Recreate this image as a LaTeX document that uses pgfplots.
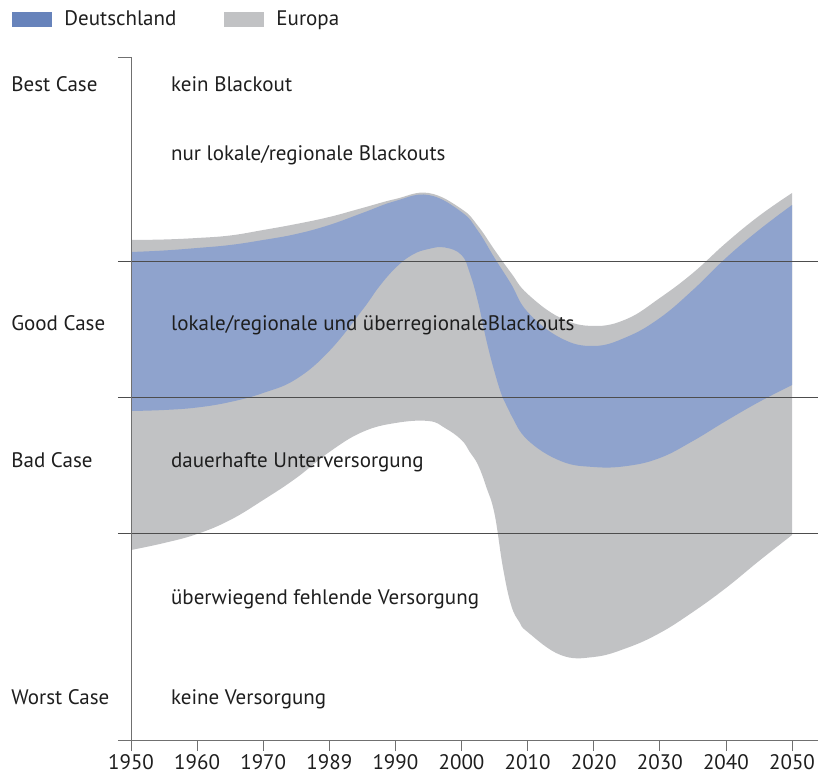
\documentclass[border=0pt]{standalone}
\usepackage{fontspec}
\setmainfont{PT Sans}
\usepackage{pgfplots}
\pgfplotsset{compat=1.18}
\usepgfplotslibrary{fillbetween}
\definecolor{deblue}{HTML}{8FA3CD}
\definecolor{legblue}{HTML}{6783BB}
\definecolor{eugray}{HTML}{C1C2C4}
\definecolor{linegray}{HTML}{4D4D4D}
\definecolor{axgray}{HTML}{707070}
\definecolor{txt}{HTML}{1E1E1E}
\begin{document}
\begin{tikzpicture}
\begin{axis}[
  scale only axis, width=700bp, height=682bp,
  xmin=-0.197, xmax=10.393, ymin=0, ymax=682,
  axis x line=bottom, axis y line=none,
  x axis line style={-, axgray, line width=1bp},
  xtick={0,...,10},
  xticklabels={1950,1960,1970,1989,1990,2000,2010,2020,2030,2040,2050},
  tick align=outside, major tick length=11bp,
  x tick style={axgray, line width=0.8bp},
  ytick=\empty,
  font=\fontsize{21bp}{25bp}\selectfont,
  tick label style={font=\fontsize{21bp}{25bp}\selectfont, text=txt},
  /pgf/number format/assume math mode=true,
  clip=false, no markers,
  legend columns=2,
  legend style={draw=none, fill=none, at={(-0.151,1.072)}, anchor=north west,
    inner sep=0pt, text=txt, font=\fontsize{21bp}{25bp}\selectfont,
    /tikz/every even column/.append style={column sep=46bp}},
  legend image code/.code={\fill[#1] (0bp,-7.5bp) rectangle (40bp,7.5bp);\path (50bp,0bp);},
]
% Europa (upper / lower edge)
\addplot[draw=none, smooth, tension=0.7, name path=eutop, forget plot] coordinates {
 (0,500) (0.5,500.5) (1,502) (1.5,504.5) (2,510) (2.5,516) (3,523) (3.5,532) (4,541)
 (4.5,547) (5,531) (5.25,514) (5.5,490) (5.75,467) (6,446) (6.5,422) (7,414) (7.5,421)
 (8,442) (8.5,467) (9,497) (9.5,524) (10,547)};
\addplot[draw=none, smooth, tension=0.7, name path=eubot, forget plot] coordinates {
 (0,190) (0.5,197) (1,206) (1.5,220) (2,240) (2.5,262) (3,288) (3.5,308) (4,317)
 (4.5,319) (4.75,312) (5,300) (5.125,288) (5.25,275) (5.375,253) (5.5,226) (5.625,173)
 (5.75,135) (5.875,118) (6,108) (6.5,85) (7,83) (7.5,92) (8,107) (8.5,128) (9,152)
 (9.5,179) (10,205)};
% Deutschland (upper / lower edge)
\addplot[draw=none, smooth, tension=0.7, name path=detop, forget plot] coordinates {
 (0,488) (0.5,489.5) (1,492) (1.5,495) (2,500) (2.5,506) (3,515) (3.5,527) (4,539)
 (4.5,545) (5,528) (5.25,509) (5.5,482) (5.75,456) (6,428) (6.5,402) (7,394) (7.5,403)
 (8,422) (8.5,450) (9,482) (9.5,510) (10,535)};
\addplot[draw=none, smooth, tension=0.7, name path=debot, forget plot] coordinates {
 (0,329) (0.5,330) (1,332.5) (1.5,338) (2,347) (2.5,361) (3,389) (3.5,430) (3.75,453)
 (4,472) (4.25,485) (4.5,491) (4.75,492.5) (5,485) (5.125,467) (5.25,438) (5.375,400)
 (5.5,368) (5.625,342) (5.75,325) (6,300) (6.5,279) (7,273) (7.5,274) (8,282) (8.5,299)
 (9,319) (9.5,338) (10,355)};
\addplot[eugray, draw=none, forget plot] fill between[of=eutop and eubot];
\addplot[deblue, draw=none, forget plot] fill between[of=detop and debot];
% scenario boundaries
\addplot[linegray, line width=1bp, forget plot] coordinates {(-0.197,478.5) (10.393,478.5)};
\addplot[linegray, line width=1bp, forget plot] coordinates {(-0.197,342.3) (10.393,342.3)};
\addplot[linegray, line width=1bp, forget plot] coordinates {(-0.197,206.5) (10.393,206.5)};
\draw[axgray, line width=1bp] (axis cs:-0.197,682) -- (axis cs:0,682) -- (axis cs:0,0);
\addlegendimage{fill=legblue, draw=none}
\addlegendentry{Deutschland}
\addlegendimage{fill=eugray, draw=none}
\addlegendentry{Europa}
% labels
\begin{scope}[every node/.style={anchor=base west, inner sep=0pt, text=txt}]
\node at (axis cs:-1.813,648) {Best Case};
\node at (axis cs:-1.813,409) {Good Case};
\node at (axis cs:-1.813,273) {Bad Case};
\node at (axis cs:-1.813,36) {Worst Case};
\node at (axis cs:0.604,648) {kein Blackout};
\node at (axis cs:0.604,579) {nur lokale/regionale Blackouts};
\node at (axis cs:0.604,409) {lokale/regionale und überregionaleBlackouts};
\node at (axis cs:0.604,273) {dauerhafte Unterversorgung};
\node at (axis cs:0.604,136) {überwiegend fehlende Versorgung};
\node at (axis cs:0.604,36) {keine Versorgung};
\end{scope}
\path (axis cs:-1.982,740) rectangle (axis cs:10.620,-36);
\end{axis}
\end{tikzpicture}
\end{document}
